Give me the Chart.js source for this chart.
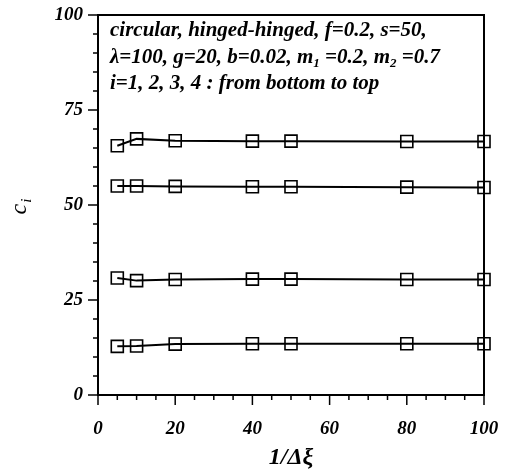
<!DOCTYPE html>
<html>
<head>
<meta charset="utf-8">
<script src="https://cdn.jsdelivr.net/npm/chart.js@4.4.1/dist/chart.umd.min.js"></script>
<style>
html,body{margin:0;padding:0;background:#fff;}
#wrap{width:507px;height:472px;position:relative;}
</style>
</head>
<body>
<div id="wrap"><canvas id="c" width="507" height="472"></canvas></div>
<script>
// ---- data ----
const invDxi = [5, 10, 20, 40, 50, 80, 100];
const c1 = [12.8, 12.9, 13.4, 13.5, 13.5, 13.5, 13.5];
const c2 = [30.8, 30.1, 30.4, 30.5, 30.5, 30.4, 30.4];
const c3 = [55.0, 55.0, 54.9, 54.8, 54.8, 54.7, 54.6];
const c4 = [65.6, 67.4, 66.9, 66.8, 66.8, 66.7, 66.7];
const xMajorTicks = [0, 20, 40, 60, 80, 100];
const yMajorTicks = [0, 25, 50, 75, 100];
const xTitle = '1/Δξ';
const yTitleMain = 'c';
const yTitleSub = 'i';
const noteLine1 = 'circular, hinged-hinged, f=0.2, s=50,';
const noteLine2 = [['λ=100, g=20, b=0.02, m', false], ['1', true], [' =0.2, m', false], ['2', true], [' =0.7', false]];
const noteLine3 = 'i=1, 2, 3, 4 : from bottom to top';

const FONT = '"Liberation Serif", "Times New Roman", serif';

function mk(vals){
  return {
    data: invDxi.map((x,i)=>({x:x, y:vals[i]})),
    borderColor:'#000', borderWidth:2, pointStyle:'rect', pointRadius:8.5,
    pointBorderWidth:1.6, pointBorderColor:'#000', pointBackgroundColor:'rgba(0,0,0,0)',
    pointHoverRadius:8.5, tension:0, clip:false, fill:false
  };
}

const deco = {
  id:'deco',
  afterDraw(chart){
    const ctx = chart.ctx, a = chart.chartArea;
    const xs = chart.scales.x, ys = chart.scales.y;
    ctx.save();
    ctx.strokeStyle='#000'; ctx.lineWidth=2;
    ctx.strokeRect(a.left, a.top, a.right-a.left, a.bottom-a.top);
    ctx.lineWidth=1.5;
    for(let v=0; v<=100; v+=5){
      const px = xs.getPixelForValue(v);
      const len = (xMajorTicks.includes(v)) ? 10 : 5;
      ctx.beginPath(); ctx.moveTo(px, a.bottom); ctx.lineTo(px, a.bottom+len); ctx.stroke();
    }
    for(let v=0; v<=100; v+=5){
      const py = ys.getPixelForValue(v);
      const len = (yMajorTicks.includes(v)) ? 10 : 5;
      ctx.beginPath(); ctx.moveTo(a.left, py); ctx.lineTo(a.left-len, py); ctx.stroke();
    }
    // y title
    ctx.fillStyle='#000';
    ctx.save();
    ctx.translate(20, 207);
    ctx.rotate(-Math.PI/2);
    ctx.font = 'italic 24px ' + FONT;
    ctx.textBaseline='alphabetic';
    const wc = ctx.measureText(yTitleMain).width;
    ctx.font = 'italic 15px ' + FONT;
    const wi = ctx.measureText(yTitleSub).width;
    const x0 = -(wc+wi)/2;
    ctx.font = 'italic 24px ' + FONT;
    ctx.fillText(yTitleMain, x0, 6);
    ctx.font = 'italic 15px ' + FONT;
    ctx.fillText(yTitleSub, x0+wc+1, 11);
    ctx.restore();
    // notes
    const fs = 21;
    ctx.font = 'bold italic '+fs+'px ' + FONT;
    ctx.textBaseline='middle';
    ctx.fillText(noteLine1, 110, 31);
    let x = 110;
    for(const [t, sub] of noteLine2){
      if(sub){
        ctx.font = 'bold italic 13px ' + FONT;
        ctx.fillText(t, x, 64);
      } else {
        ctx.font = 'bold italic '+fs+'px ' + FONT;
        ctx.fillText(t, x, 58);
      }
      x += ctx.measureText(t).width;
    }
    ctx.font = 'bold italic '+fs+'px ' + FONT;
    ctx.fillText(noteLine3, 110, 84);
    ctx.restore();
  }
};

new Chart(document.getElementById('c'), {
  type:'line',
  data:{ datasets:[mk(c1), mk(c2), mk(c3), mk(c4)] },
  options:{
    responsive:false, animation:false, devicePixelRatio:1,
    layout:{ padding:{ top:15, right:23, left:0, bottom:0 } },
    plugins:{ legend:{display:false}, tooltip:{enabled:false} },
    scales:{
      x:{
        type:'linear', min:0, max:100,
        afterFit(s){ s.height = 77; s.paddingLeft = 0; s.paddingRight = 0; },
        afterBuildTicks(s){ s.ticks = xMajorTicks.map(v=>({value:v})); },
        grid:{ display:true, drawOnChartArea:false, drawTicks:true, tickLength:10, color:'rgba(0,0,0,0)' },
        border:{ display:false },
        ticks:{ color:'#000', font:{ family:FONT, size:19, style:'italic', weight:'bold' }, padding:13, maxRotation:0, autoSkip:false },
        title:{ display:true, text:xTitle, color:'#000', font:{ family:FONT, size:24, style:'italic', weight:'bold' }, padding:{top:0,bottom:0} }
      },
      y:{
        type:'linear', min:0, max:100,
        afterFit(s){ s.width = 98; s.paddingTop = 0; s.paddingBottom = 0; },
        afterBuildTicks(s){ s.ticks = yMajorTicks.map(v=>({value:v})); },
        grid:{ display:true, drawOnChartArea:false, drawTicks:true, tickLength:10, color:'rgba(0,0,0,0)' },
        border:{ display:false },
        ticks:{ color:'#000', font:{ family:FONT, size:19, style:'italic', weight:'bold' }, padding:5 }
      }
    }
  },
  plugins:[deco]
});
</script>
</body>
</html>
